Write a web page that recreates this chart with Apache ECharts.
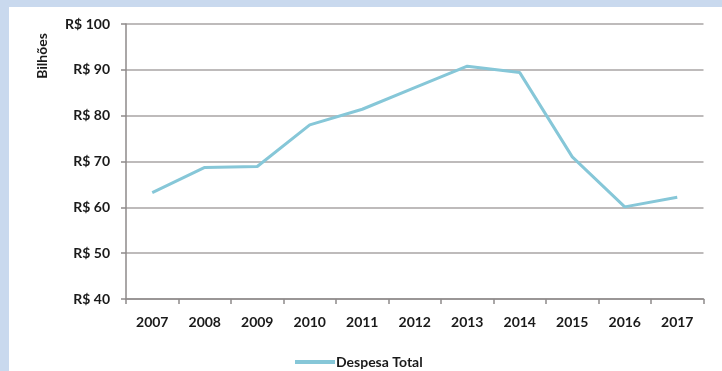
<!DOCTYPE html>
<html>
<head>
<meta charset="utf-8">
<script src="https://cdn.jsdelivr.net/npm/echarts@6/dist/echarts.min.js"></script>
<style>
html,body{margin:0;padding:0;background:#fff;}
#c{width:722px;height:371px;}
</style>
</head>
<body>
<div id="c"></div>
<script>
const categories = ['2007','2008','2009','2010','2011','2012','2013','2014','2015','2016','2017'];
const despesaTotal = [63.2, 68.7, 68.9, 78.0, 81.4, 86.1, 90.8, 89.4, 71.0, 60.1, 62.2];
const yTicks = [40, 50, 60, 70, 80, 90, 100];
const seriesName = 'Despesa Total';
const yAxisName = 'Bilhões';

const font = 'Lato, "Open Sans", "Liberation Sans", sans-serif';
const chart = echarts.init(document.getElementById('c'), null, {renderer: 'canvas'});
chart.setOption({
  backgroundColor: '#ffffff',
  animation: false,
  graphic: [
    {type: 'rect', left: 0, top: 0, shape: {width: 722, height: 7}, style: {fill: '#c9d9ee'}, silent: true},
    {type: 'rect', left: 0, top: 0, shape: {width: 9, height: 371}, style: {fill: '#c9d9ee'}, silent: true},
    {type: 'text', x: 42, y: 56, rotation: Math.PI / 2,
     style: {text: yAxisName, font: 'bold 14px ' + font, fill: '#1a1a1a', textAlign: 'center', textVerticalAlign: 'middle'}, silent: true}
  ],
  grid: {left: 126, right: 18.5, top: 24, bottom: 72, containLabel: false},
  legend: {
    data: [seriesName],
    left: 295, top: 355,
    padding: 0,
    itemWidth: 40, itemHeight: 4, itemGap: 4,
    icon: 'rect',
    textStyle: {fontFamily: font, fontSize: 14, fontWeight: 'bold', color: '#1a1a1a', padding: [0,0,0,-4]}
  },
  xAxis: {
    type: 'category',
    data: categories,
    boundaryGap: true,
    axisLine: {lineStyle: {color: '#8e8a8a', width: 1.5}},
    axisTick: {show: true, length: 5, lineStyle: {color: '#8e8a8a', width: 1.5}},
    axisLabel: {fontFamily: font, fontSize: 14, fontWeight: 'bold', color: '#1a1a1a', margin: 16}
  },
  yAxis: {
    type: 'value',
    min: yTicks[0], max: yTicks[yTicks.length-1], interval: 10,
    axisLine: {show: true, lineStyle: {color: '#8e8a8a', width: 1.5}},
    axisTick: {show: true, length: 5, lineStyle: {color: '#8e8a8a', width: 1.5}},
    axisLabel: {fontFamily: font, fontSize: 14, fontWeight: 'bold', color: '#1a1a1a', margin: 16, formatter: v => 'R$ ' + v},
    splitLine: {lineStyle: {color: '#a9a5a5', width: 1.5}}
  },
  series: [{
    name: seriesName,
    type: 'line',
    data: despesaTotal,
    symbol: 'none',
    lineStyle: {color: '#86c7d8', width: 3},
    itemStyle: {color: '#86c7d8'}
  }]
});
</script>
</body>
</html>
